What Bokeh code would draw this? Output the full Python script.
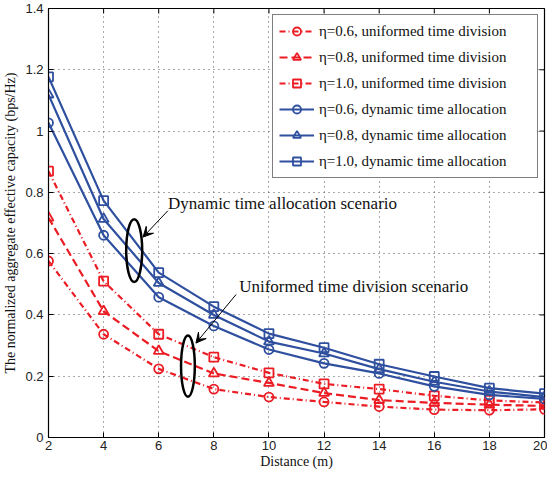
import math
from bokeh.plotting import figure
from bokeh.embed import file_html
from bokeh.resources import INLINE
from bokeh.models import (FixedTicker, CustomJSTickFormatter, Label,
                          Arrow, VeeHead, Range1d)

# ---------------- data ----------------
distance = [2, 4, 6, 8, 10, 12, 14, 16, 18, 20]
uni_06 = [0.576, 0.337, 0.224, 0.158, 0.132, 0.116, 0.101, 0.091, 0.089, 0.092]
uni_08 = [0.717, 0.412, 0.282, 0.209, 0.178, 0.145, 0.122, 0.113, 0.107, 0.103]
uni_10 = [0.869, 0.510, 0.337, 0.262, 0.211, 0.175, 0.158, 0.136, 0.121, 0.114]
dyn_06 = [1.027, 0.660, 0.458, 0.364, 0.287, 0.242, 0.209, 0.167, 0.139, 0.126]
dyn_08 = [1.119, 0.713, 0.504, 0.400, 0.313, 0.274, 0.223, 0.182, 0.150, 0.132]
dyn_10 = [1.177, 0.773, 0.538, 0.427, 0.339, 0.293, 0.239, 0.199, 0.161, 0.143]
labels = ["\u03b7=0.6, uniformed time division",
          "\u03b7=0.8, uniformed time division",
          "\u03b7=1.0, uniformed time division",
          "\u03b7=0.6, dynamic time allocation",
          "\u03b7=0.8, dynamic time allocation",
          "\u03b7=1.0, dynamic time allocation"]
x_ticks = [2, 4, 6, 8, 10, 12, 14, 16, 18, 20]
y_ticks = [0, 0.2, 0.4, 0.6, 0.8, 1.0, 1.2, 1.4]
X_MIN, X_MAX = 2, 20
Y_MIN, Y_MAX = 0, 1.4

RED = "#ec1c24"
BLUE = "#2f4f9f"
SERIF = "Liberation Serif"
SANS = "Liberation Sans"

p = figure(width=547, height=471, output_backend="svg", toolbar_location=None,
           x_range=Range1d(X_MIN, X_MAX), y_range=Range1d(Y_MIN, Y_MAX),
           min_border_left=46, min_border_right=3, min_border_top=8, min_border_bottom=4)
p.background_fill_color = "white"
p.border_fill_color = "white"
p.outline_line_color = "black"
p.outline_line_width = 1.2

# grid
for g in (p.xgrid[0], p.ygrid[0]):
    g.grid_line_color = "#555555"
    g.grid_line_dash = "1 4"
    g.grid_line_width = 1
p.xgrid[0].ticker = FixedTicker(ticks=x_ticks)
p.ygrid[0].ticker = FixedTicker(ticks=y_ticks)

# inward box ticks on top and right edges (half of each dash is clipped by the frame)
top_x = x_ticks[1:-1]
right_y = y_ticks[1:-1]
p.scatter(top_x, [Y_MAX] * len(top_x), marker="dash", size=10, angle=math.pi / 2,
          line_color="black", line_width=1)
p.scatter([X_MAX] * len(right_y), right_y, marker="dash", size=10,
          line_color="black", line_width=1)

series = [
    (uni_06, RED, "circle", "6 3 1 3", labels[0], 9),
    (uni_08, RED, "triangle", "8 4", labels[1], 10),
    (uni_10, RED, "square", "6 3 1 3", labels[2], 9),
    (dyn_06, BLUE, "circle", "solid", labels[3], 9),
    (dyn_08, BLUE, "triangle", "solid", labels[4], 10),
    (dyn_10, BLUE, "square", "solid", labels[5], 9),
]
for ys, col, mk, dash, lab, sz in series:
    p.line(distance, ys, line_color=col, line_width=2.2, line_dash=dash, legend_label=lab)
    p.scatter(distance, ys, marker=mk, size=sz, line_color=col, line_width=1.8,
              fill_color=None, legend_label=lab)

# annotations
p.ellipse(x=[5.11], y=[0.61], width=0.58, height=0.205, fill_color=None,
          line_color="black", line_width=2.5)
p.ellipse(x=[7.06], y=[0.233], width=0.5, height=0.2, fill_color=None,
          line_color="black", line_width=2.5)
p.add_layout(Arrow(end=VeeHead(size=10, fill_color="black", line_color="black"),
                   x_start=6.33, y_start=0.74, x_end=5.43, y_end=0.654,
                   line_color="black", line_width=1))
p.add_layout(Arrow(end=VeeHead(size=10, fill_color="black", line_color="black"),
                   x_start=8.81, y_start=0.467, x_end=7.35, y_end=0.308,
                   line_color="black", line_width=1))
p.add_layout(Label(x=6.34, y=0.763, text="Dynamic time allocation scenario",
                   text_font=SERIF, text_font_size="17px", text_baseline="middle",
                   text_color="#111111"))
p.add_layout(Label(x=8.92, y=0.492, text="Uniformed time division scenario",
                   text_font=SERIF, text_font_size="17px", text_baseline="middle",
                   text_color="#111111"))

fmt = CustomJSTickFormatter(code="return (Math.round(tick*10)/10).toString();")

# main axes
for ax in (p.xaxis[0], p.yaxis[0]):
    ax.major_label_text_font = SANS
    ax.major_label_text_font_size = "13px"
    ax.major_label_text_color = "#222222"
    ax.axis_label_text_font = SERIF
    ax.axis_label_text_font_size = "14px"
    ax.axis_label_text_font_style = "normal"
    ax.axis_label_text_color = "#111111"
    ax.major_tick_in = 5
    ax.major_tick_out = 0
    ax.minor_tick_line_color = None
    ax.axis_line_color = "black"
    ax.major_tick_line_color = "black"
    ax.major_label_standoff = 3
    ax.axis_label_standoff = 1
p.yaxis[0].major_label_standoff = 5
p.yaxis[0].axis_label_standoff = 4
p.xaxis[0].ticker = FixedTicker(ticks=x_ticks)
p.yaxis[0].ticker = FixedTicker(ticks=y_ticks)
p.xaxis[0].axis_label = "Distance (m)"
p.yaxis[0].axis_label = "The normalized aggregate effective capacity (bps/Hz)"
p.yaxis[0].formatter = fmt

# legend
lg = p.legend[0]
lg.location = "top_right"
lg.margin = 6
lg.padding = 6
lg.spacing = 6
lg.label_height = 20
lg.glyph_height = 20
lg.glyph_width = 35
lg.label_standoff = 5
lg.label_width = 212
lg.label_text_font = SERIF
lg.label_text_font_size = "15px"
lg.label_text_color = "#111111"
lg.border_line_color = "black"
lg.border_line_width = 1.2
lg.background_fill_alpha = 1

open("out.html", "w").write(file_html(p, INLINE))
